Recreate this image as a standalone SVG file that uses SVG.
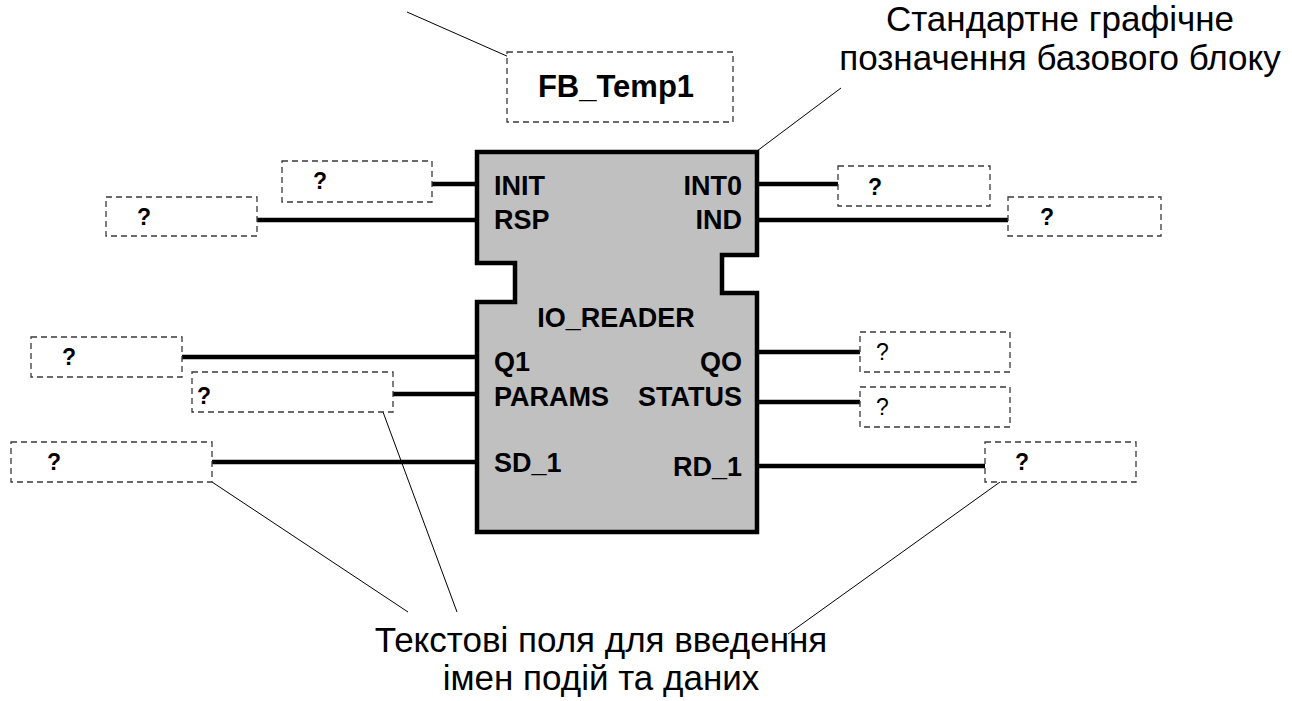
<svg xmlns="http://www.w3.org/2000/svg" width="1292" height="701" viewBox="0 0 1292 701">
  <style>
    .field { fill: #ffffff; stroke: #3a3a3a; stroke-width: 1.3; stroke-dasharray: 6 4; }
    .wire { stroke: #000000; stroke-width: 4.5; fill: none; }
    .leader { stroke: #000000; stroke-width: 1; fill: none; }
    .pin { font-family: "Liberation Sans", Arial, sans-serif; font-weight: bold; font-size: 27px; fill: #000000; }
    .q { font-family: "Liberation Sans", Arial, sans-serif; font-weight: bold; font-size: 23px; fill: #000000; }
    .qr { font-family: "Liberation Sans", Arial, sans-serif; font-size: 23px; fill: #000000; }
    .note { font-family: "Liberation Sans", Arial, sans-serif; font-size: 35px; fill: #000000; text-anchor: middle; }
  </style>
  <rect width="1292" height="701" fill="#ffffff"/>

  <!-- callout leader lines -->
  <g id="leaders">
    <line class="leader" x1="407" y1="12" x2="543" y2="72"/>
    <line class="leader" x1="757" y1="151" x2="841" y2="88"/>
    <line class="leader" x1="212" y1="482" x2="408" y2="612"/>
    <line class="leader" x1="383" y1="412" x2="457" y2="612"/>
    <line class="leader" x1="1000" y1="482" x2="788" y2="634"/>
  </g>

  <!-- instance name field -->
  <g id="instance-name">
    <rect class="field" x="507" y="52" width="226" height="70"/>
    <text x="616" y="97" text-anchor="middle" font-family="Liberation Sans, Arial, sans-serif" font-weight="bold" font-size="31">FB_Temp1</text>
  </g>

  <!-- explanatory notes -->
  <g id="note-block">
    <text class="note" x="1060" y="31">Стандартне графічне</text>
    <text class="note" x="1060" y="70">позначення базового блоку</text>
  </g>
  <g id="note-fields">
    <text class="note" x="601" y="652">Текстові поля для введення</text>
    <text class="note" x="601" y="690">імен подій та даних</text>
  </g>

  <!-- connections between the block pins and the name fields -->
  <g id="connectors">
    <line class="wire" x1="432" y1="184" x2="477" y2="184"/>
    <line class="wire" x1="257" y1="220" x2="477" y2="220"/>
    <line class="wire" x1="757" y1="184" x2="838" y2="184"/>
    <line class="wire" x1="757" y1="220" x2="1008" y2="220"/>
    <line class="wire" x1="182" y1="357" x2="477" y2="357"/>
    <line class="wire" x1="393" y1="394" x2="477" y2="394"/>
    <line class="wire" x1="212" y1="462" x2="477" y2="462"/>
    <line class="wire" x1="757" y1="352" x2="860" y2="352"/>
    <line class="wire" x1="757" y1="402" x2="860" y2="402"/>
    <line class="wire" x1="757" y1="466" x2="985" y2="466"/>
  </g>

  <!-- function block IO_READER -->
  <g id="io-reader">
    <path d="M477,152 H757 V255 H722 V293 H757 V532 H477 V302 H515 V263 H477 Z" fill="#c0c0c0" stroke="#000000" stroke-width="4.5" stroke-linejoin="miter"/>
    <text class="pin" x="494" y="195">INIT</text>
    <text class="pin" x="494" y="229">RSP</text>
    <text class="pin" x="742" y="195" text-anchor="end">INT0</text>
    <text class="pin" x="742" y="229" text-anchor="end">IND</text>
    <text class="pin" x="616" y="327" text-anchor="middle">IO_READER</text>
    <text class="pin" x="494" y="371">Q1</text>
    <text class="pin" x="742" y="371" text-anchor="end">QO</text>
    <text class="pin" x="494" y="406">PARAMS</text>
    <text class="pin" x="742" y="406" text-anchor="end">STATUS</text>
    <text class="pin" x="494" y="472">SD_1</text>
    <text class="pin" x="742" y="476" text-anchor="end">RD_1</text>
  </g>

  <!-- input name fields -->
  <g id="field-init">
    <rect class="field" x="282" y="161" width="150" height="41"/>
    <text class="q" x="313" y="189">?</text>
  </g>
  <g id="field-rsp">
    <rect class="field" x="106" y="197" width="151" height="39"/>
    <text class="q" x="137" y="225">?</text>
  </g>
  <g id="field-q1">
    <rect class="field" x="31" y="337" width="151" height="40"/>
    <text class="q" x="62" y="365">?</text>
  </g>
  <g id="field-params">
    <rect class="field" x="192" y="372" width="201" height="40"/>
    <text class="q" x="197" y="404">?</text>
  </g>
  <g id="field-sd1">
    <rect class="field" x="11" y="442" width="201" height="40"/>
    <text class="q" x="47" y="470">?</text>
  </g>

  <!-- output name fields -->
  <g id="field-int0">
    <rect class="field" x="838" y="166" width="152" height="40"/>
    <text class="q" x="868" y="195">?</text>
  </g>
  <g id="field-ind">
    <rect class="field" x="1008" y="197" width="153" height="39"/>
    <text class="q" x="1040" y="225">?</text>
  </g>
  <g id="field-qo">
    <rect class="field" x="860" y="332" width="150" height="40"/>
    <text class="qr" x="876" y="360">?</text>
  </g>
  <g id="field-status">
    <rect class="field" x="860" y="387" width="150" height="40"/>
    <text class="qr" x="876" y="415">?</text>
  </g>
  <g id="field-rd1">
    <rect class="field" x="985" y="442" width="151" height="40"/>
    <text class="q" x="1015" y="470">?</text>
  </g>
</svg>
